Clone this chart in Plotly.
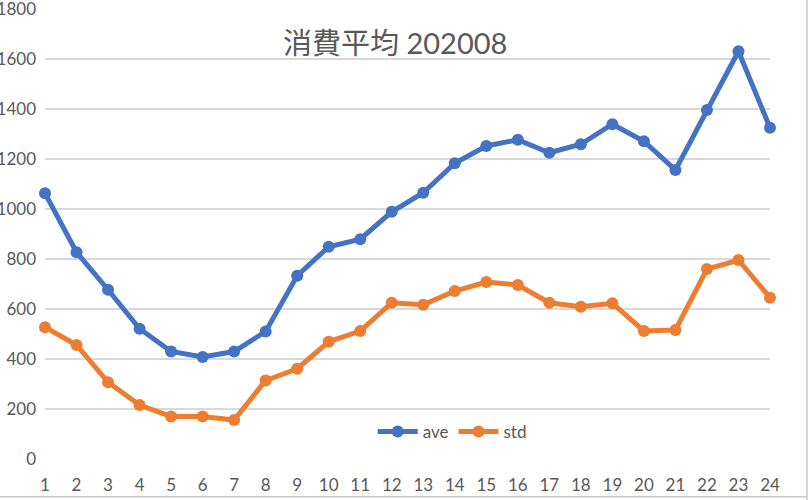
import plotly.graph_objects as go

categories = [str(i) for i in range(1, 25)]
ave = [1063, 827, 677, 521, 430, 408, 430, 510, 733, 849, 879, 989,
       1065, 1183, 1252, 1277, 1225, 1259, 1339, 1271, 1156, 1396, 1631, 1325]
std = [527, 456, 307, 216, 170, 170, 156, 314, 361, 469, 512, 625,
       617, 672, 708, 696, 625, 609, 623, 512, 516, 760, 796, 645]
y_ticks = [0, 200, 400, 600, 800, 1000, 1200, 1400, 1600, 1800]

FONT = "Lato, 'Noto Sans CJK JP', sans-serif"
GREY = "#595959"

fig = go.Figure()
fig.add_trace(go.Scatter(x=categories, y=ave, name="ave", mode="lines+markers",
                         line=dict(color="#4472C4", width=5),
                         marker=dict(color="#4472C4", size=12), cliponaxis=False))
fig.add_trace(go.Scatter(x=categories, y=std, name="std", mode="lines+markers",
                         line=dict(color="#ED7D31", width=5),
                         marker=dict(color="#ED7D31", size=12), cliponaxis=False))

fig.update_layout(
    width=811, height=500,
    margin=dict(l=45, r=41, t=9, b=41, autoexpand=False),
    paper_bgcolor="white", plot_bgcolor="white",
    font=dict(family=FONT, color=GREY, size=16),
    title=dict(text="消費平均 202008", x=0.483, xref="paper", xanchor="center",
               y=0.912, yref="container", yanchor="middle",
               font=dict(family=FONT, size=29, color=GREY)),
    showlegend=True,
    legend=dict(orientation="h", x=0.452, y=0.06, xanchor="left", yanchor="middle",
                font=dict(size=17, color=GREY), bgcolor="rgba(0,0,0,0)",
                itemwidth=40),
    xaxis=dict(type="category", range=[0, 23], showgrid=False, zeroline=False,
               showline=False, ticks="", ticklabelstandoff=14, automargin=False,
               tickfont=dict(size=17, color=GREY), fixedrange=True),
    yaxis=dict(range=[0, 1800], tickvals=y_ticks, showgrid=True,
               gridcolor="#d9d9d9", gridwidth=1.5, zeroline=False,
               showline=False, ticks="", ticklabelstandoff=8, automargin=False,
               ticklabeloverflow="allow",
               tickfont=dict(size=17, color=GREY), fixedrange=True),
)

# outer chart frame (right and bottom edges visible)
fig.add_shape(type="line", xref="paper", yref="paper", x0=1.051, x1=1.051, y0=-0.1, y1=1.03,
              line=dict(color="#c8c8c8", width=1.5))
fig.add_shape(type="line", xref="paper", yref="paper", x0=-0.07, x1=1.051, y0=-0.084, y1=-0.084,
              line=dict(color="#c8c8c8", width=1.5))

fig.write_html("out.html", config={"displayModeBar": False},
               post_script="document.body.style.margin='0';document.body.style.overflow='hidden';")
